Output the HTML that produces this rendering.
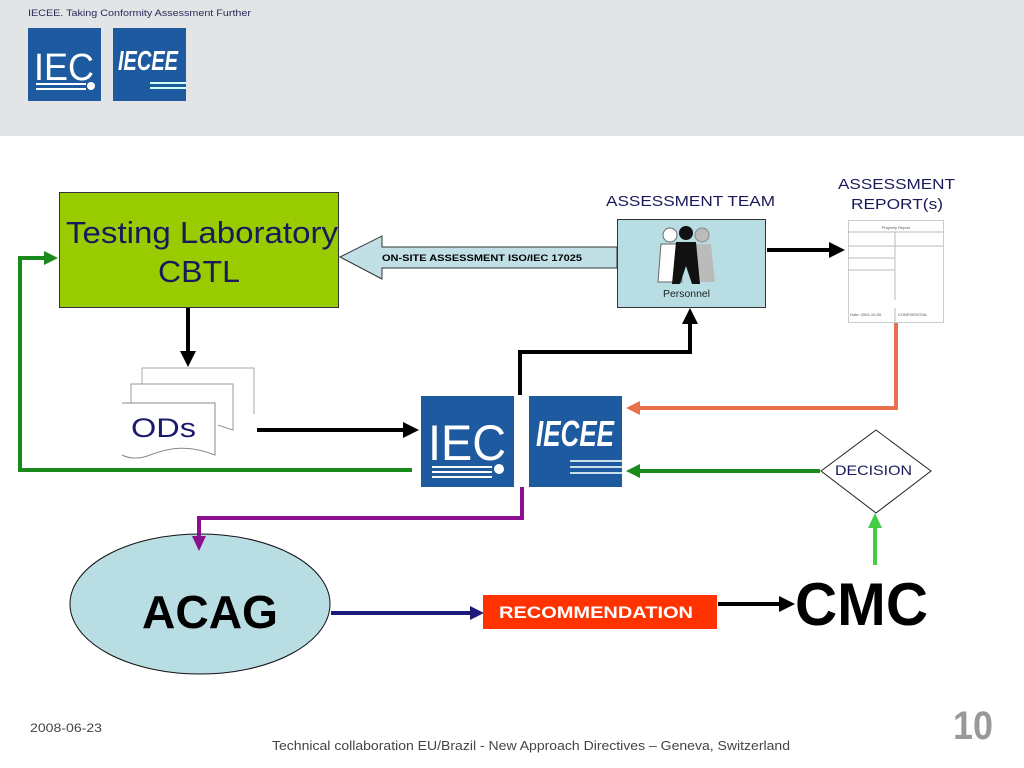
<!DOCTYPE html>
<html><head><meta charset="utf-8"><style>
html,body{margin:0;padding:0;background:#fff;}
svg{display:block;}
text{font-family:"Liberation Sans",Arial,Helvetica,sans-serif;}
</style></head><body>
<svg width="1024" height="768" viewBox="0 0 1024 768" xmlns="http://www.w3.org/2000/svg" font-family="Liberation Sans, Arial, sans-serif">
<!-- header -->
<rect x="0" y="0" width="1024" height="136" fill="#e3e4e6"/>
<text x="28" y="16" font-size="9" fill="#2a2a5a" textLength="223" lengthAdjust="spacingAndGlyphs">IECEE. Taking Conformity Assessment Further</text>
<g>
<rect x="28" y="28" width="73" height="73" fill="#1e5aa0"/>
<text x="34" y="80" font-size="38" fill="#fff" textLength="60" lengthAdjust="spacingAndGlyphs">IEC</text>
<rect x="36" y="83" width="50" height="2" fill="#fff"/><rect x="36" y="88" width="50" height="2" fill="#fff"/><circle cx="91" cy="86" r="4" fill="#fff"/>
<rect x="113" y="28" width="73" height="73" fill="#1e5aa0"/>
<text x="118" y="70" font-size="28" font-weight="bold" font-style="italic" fill="#fff" textLength="60" lengthAdjust="spacingAndGlyphs">IECEE</text>
<rect x="150" y="82" width="36" height="2" fill="#cfe"/><rect x="150" y="87" width="36" height="2" fill="#cfe"/>
</g>
<!-- Testing lab -->
<rect x="59.5" y="192.5" width="279" height="115" fill="#99cc00" stroke="#333"/>
<text x="66" y="243" font-size="31" fill="#1a1a5a" textLength="272" lengthAdjust="spacingAndGlyphs">Testing Laboratory</text>
<text x="158" y="282" font-size="31" fill="#1a1a5a" textLength="82" lengthAdjust="spacingAndGlyphs">CBTL</text>
<!-- wide arrow -->
<path d="M340,257 L382,236 L382,247 L617,247 L617,268 L382,268 L382,279 Z" fill="#c0e0e6" stroke="#333"/>
<text x="382" y="261" font-size="9" font-weight="bold" fill="#000" textLength="200" lengthAdjust="spacingAndGlyphs">ON-SITE ASSESSMENT ISO/IEC 17025</text>
<!-- assessment team -->
<text x="606" y="206" font-size="15" fill="#1a1a5a" textLength="169" lengthAdjust="spacingAndGlyphs">ASSESSMENT TEAM</text>
<rect x="617.5" y="219.5" width="148" height="88" fill="#b8dde3" stroke="#333"/>
<g>
<circle cx="670" cy="235" r="7" fill="#fff" stroke="#666"/><path d="M661,244 h18 l3,38 h-24 Z" fill="#fff" stroke="#666"/>
<circle cx="702" cy="235" r="7" fill="#bbb" stroke="#888"/><path d="M693,244 h18 l4,38 h-24 Z" fill="#bbb"/>
<circle cx="686" cy="233" r="7" fill="#111"/><path d="M676,242 h20 l4,42 h-8 l-6,-18 l-6,18 h-8 Z" fill="#111"/>
</g>
<text x="663" y="297" font-size="10" fill="#222" textLength="47" lengthAdjust="spacingAndGlyphs">Personnel</text>
<!-- report -->
<text x="838" y="189" font-size="15" fill="#1a1a5a" textLength="117" lengthAdjust="spacingAndGlyphs">ASSESSMENT</text>
<text x="851" y="209" font-size="15" fill="#1a1a5a" textLength="92" lengthAdjust="spacingAndGlyphs">REPORT(s)</text>
<rect x="848.5" y="220.5" width="95" height="102" fill="#fff" stroke="#ccc"/>
<line x1="848" y1="232" x2="943" y2="232" stroke="#bbb"/><line x1="848" y1="246" x2="943" y2="246" stroke="#bbb"/>
<line x1="848" y1="258" x2="895" y2="258" stroke="#bbb"/><line x1="848" y1="270" x2="895" y2="270" stroke="#bbb"/>
<line x1="895" y1="232" x2="895" y2="300" stroke="#bbb"/><line x1="895" y1="308" x2="895" y2="322" stroke="#bbb"/>
<text x="896" y="229" font-size="4" fill="#555" text-anchor="middle">Property Report</text>
<text x="850" y="316" font-size="4" fill="#555">Date: 2004-10-05</text><text x="898" y="316" font-size="4" fill="#555">CONFIDENTIAL</text>
<line x1="767" y1="250" x2="830" y2="250" stroke="#000" stroke-width="4"/><path d="M829,242 L845,250 L829,258 Z" fill="#000"/>
<!-- orange -->
<polyline points="896,323 896,408 638,408" fill="none" stroke="#e8704f" stroke-width="4"/><path d="M640,401 L626,408 L640,415 Z" fill="#e8704f"/>
<!-- black up -->
<polyline points="520,395 520,352 690,352 690,322" fill="none" stroke="#000" stroke-width="4"/><path d="M682,324 L690,308 L698,324 Z" fill="#000"/>
<!-- down from lab -->
<line x1="188" y1="308" x2="188" y2="352" stroke="#000" stroke-width="4"/><path d="M180,351 L188,367 L196,351 Z" fill="#000"/>
<!-- ODs docs -->
<path d="M142,388 V368 H254 V414" fill="none" stroke="#aaa"/>
<path d="M131,406 V384 H233 V430 L218,425" fill="#fff" stroke="#999"/>
<path d="M122,403 H215 V455 C190,445 170,447 150,455 C138,460 128,458 122,455" fill="#fff" stroke="#888"/>
<text x="131" y="437" font-size="27" fill="#1a1a6a" textLength="65" lengthAdjust="spacingAndGlyphs">ODs</text>
<line x1="257" y1="430" x2="404" y2="430" stroke="#000" stroke-width="4"/><path d="M403,422 L419,430 L403,438 Z" fill="#000"/>
<!-- big logos -->
<rect x="421" y="396" width="93" height="91" fill="#1e5aa0"/>
<text x="428" y="460" font-size="50" fill="#fff" textLength="78" lengthAdjust="spacingAndGlyphs">IEC</text>
<rect x="432" y="466" width="60" height="2" fill="#fff"/><rect x="432" y="471" width="60" height="2" fill="#fff"/><rect x="432" y="476" width="60" height="2" fill="#fff"/><circle cx="499" cy="469" r="5" fill="#fff"/>
<rect x="529" y="396" width="93" height="91" fill="#1e5aa0"/>
<text x="536" y="446" font-size="36" font-weight="bold" font-style="italic" fill="#fff" textLength="78" lengthAdjust="spacingAndGlyphs">IECEE</text>
<rect x="570" y="460" width="52" height="2" fill="#cde"/><rect x="570" y="466" width="52" height="2" fill="#cde"/><rect x="570" y="472" width="52" height="2" fill="#cde"/>
<!-- green loop -->
<polyline points="412,470 20,470 20,258 45,258" fill="none" stroke="#1a8a1a" stroke-width="4"/><path d="M44,251 L58,258 L44,265 Z" fill="#1a8a1a"/>
<!-- decision -->
<path d="M876,430 L931,471 L876,513 L821,471 Z" fill="#fff" stroke="#222"/>
<text x="835" y="475" font-size="14" fill="#1a1a5a" textLength="77" lengthAdjust="spacingAndGlyphs">DECISION</text>
<line x1="820" y1="471" x2="638" y2="471" stroke="#1a8a1a" stroke-width="4"/><path d="M640,464 L626,471 L640,478 Z" fill="#1a8a1a"/>
<line x1="875" y1="565" x2="875" y2="526" stroke="#44cc44" stroke-width="4"/><path d="M868,528 L875,513 L882,528 Z" fill="#44cc44"/>
<!-- ACAG -->
<ellipse cx="200" cy="604" rx="130" ry="70" fill="#b8dde3" stroke="#111"/>
<!-- purple -->
<polyline points="522,487 522,518 199,518 199,538" fill="none" stroke="#8b0f8f" stroke-width="4"/><path d="M192,536 L199,551 L206,536 Z" fill="#8b0f8f"/>
<text x="142" y="628" font-size="46" font-weight="bold" fill="#000" textLength="136" lengthAdjust="spacingAndGlyphs">ACAG</text>
<line x1="331" y1="613" x2="472" y2="613" stroke="#1e1a7a" stroke-width="4"/><path d="M470,606 L484,613 L470,620 Z" fill="#1e1a7a"/>
<rect x="483" y="595" width="234" height="34" fill="#ff3300"/>
<text x="499" y="618" font-size="17" font-weight="bold" fill="#fff" textLength="194" lengthAdjust="spacingAndGlyphs">RECOMMENDATION</text>
<line x1="718" y1="604" x2="780" y2="604" stroke="#000" stroke-width="4"/><path d="M779,596 L795,604 L779,612 Z" fill="#000"/>
<text x="795" y="625" font-size="60" font-weight="bold" fill="#000" textLength="133" lengthAdjust="spacingAndGlyphs">CMC</text>
<!-- footer -->
<text x="30" y="732" font-size="12" fill="#444" textLength="72" lengthAdjust="spacingAndGlyphs">2008-06-23</text>
<text x="272" y="750" font-size="13" fill="#444" textLength="518" lengthAdjust="spacingAndGlyphs">Technical collaboration EU/Brazil - New Approach Directives – Geneva, Switzerland</text>
<text x="953" y="739" font-size="40" font-weight="bold" fill="#999" textLength="40" lengthAdjust="spacingAndGlyphs">10</text>
</svg>
</body></html>
